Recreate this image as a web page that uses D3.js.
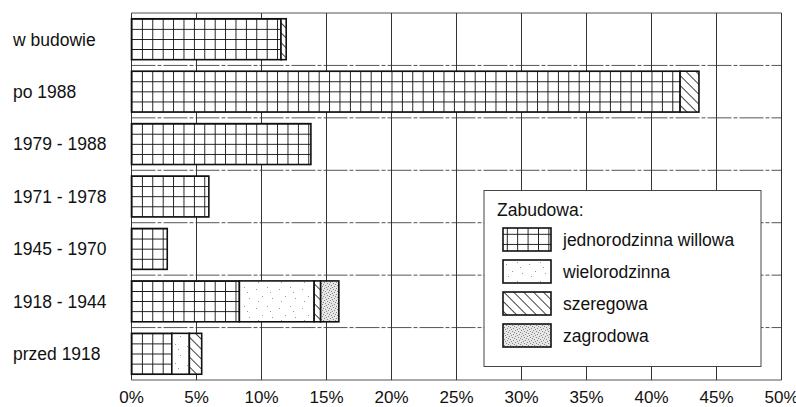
<!DOCTYPE html>
<html lang="pl">

<head>
    <meta charset="UTF-8">
    <title>Zabudowa</title>
    <script src="https://cdn.jsdelivr.net/npm/d3@7"></script>
    <style>
        body { margin: 0; background: #fff; }
        svg { font-family: "Liberation Sans", Arial, sans-serif; }
    </style>
</head>

<body>
    <svg id="chart" width="796" height="407"></svg>

    <script>
        // okresy budowy (od gory)
        const categories = ["w budowie", "po 1988", "1979 - 1988", "1971 - 1978", "1945 - 1970", "1918 - 1944", "przed 1918"]
        // udzialy w % wg rodzaju zabudowy
        const jednorodzinna = [11.5, 42.2, 13.8, 5.95, 2.75, 8.3, 3.1]
        const wielorodzinna = [0, 0, 0, 0, 0, 5.75, 1.35]
        const szeregowa = [0.4, 1.45, 0, 0, 0, 0.5, 0.95]
        const zagrodowa = [0, 0, 0, 0, 0, 1.4, 0]

        const seriesNames = ["jednorodzinna willowa", "wielorodzinna", "szeregowa", "zagrodowa"]
        const xTicks = [0, 5, 10, 15, 20, 25, 30, 35, 40, 45, 50]

        const svg = d3.select('#chart')
        const defs = svg.append('defs')

        const x = d3.scaleLinear().domain([0, 50]).range([131.5, 781.5])
        const y = d3.scaleBand()
            .domain(categories)
            .range([13, 380])
            .paddingInner(0.22)
            .paddingOuter(0.11)

        const table = categories.map((c, i) => ({
            cat: c,
            values: [jednorodzinna[i], wielorodzinna[i], szeregowa[i], zagrodowa[i]]
        }))

        // ---- patterns ----
        // grid (jednorodzinna) has to start at each bar's corner
        let pid = 0
        const gridFill = (ox, oy) => {
            const id = 'grid' + (pid++)
            const p = defs.append('pattern').attr('id', id)
                .attr('patternUnits', 'userSpaceOnUse')
                .attr('x', ox).attr('y', oy)
                .attr('width', 10.4).attr('height', 10.1)
            p.append('rect').attr('width', 10.4).attr('height', 10.1).attr('fill', '#fff')
            p.append('path').attr('d', 'M0,0H10.4M0,0V10.1')
                .attr('stroke', '#111').attr('stroke-width', 1.8)
            return `url(#${id})`
        }

        // sparse stipple for wielorodzinna
        const pw = defs.append('pattern').attr('id', 'wielo')
            .attr('patternUnits', 'userSpaceOnUse').attr('width', 23).attr('height', 19)
        pw.append('rect').attr('width', 23).attr('height', 19).attr('fill', '#fff')
        const wDots = [[3, 4], [14, 2], [9, 11], [19, 13], [5, 16], [17, 7]]
        pw.selectAll('rect.d').data(wDots).join('rect').attr('class', 'd')
            .attr('x', d => d[0]).attr('y', d => d[1]).attr('width', 1).attr('height', 1)
            .attr('fill', '#999')

        // hatch for szeregowa
        const ph = defs.append('pattern').attr('id', 'szer')
            .attr('patternUnits', 'userSpaceOnUse').attr('width', 7).attr('height', 7)
            .attr('patternTransform', 'rotate(-45)')
        ph.append('rect').attr('width', 7).attr('height', 7).attr('fill', '#fff')
        ph.append('line').attr('x1', 0).attr('y1', 0).attr('x2', 0).attr('y2', 7)
            .attr('stroke', '#111').attr('stroke-width', 1.6)

        // dense stipple for zagrodowa
        const pz = defs.append('pattern').attr('id', 'zagr')
            .attr('patternUnits', 'userSpaceOnUse').attr('width', 6).attr('height', 6)
        pz.append('rect').attr('width', 6).attr('height', 6).attr('fill', '#e6e6e6')
        const zDots = [[0, 0], [3, 1], [1, 3], [4, 4], [2, 5], [5, 2]]
        pz.selectAll('rect.d').data(zDots).join('rect').attr('class', 'd')
            .attr('x', d => d[0]).attr('y', d => d[1]).attr('width', 1).attr('height', 1)
            .attr('fill', '#888')

        const fixedFills = [null, 'url(#wielo)', 'url(#szer)', 'url(#zagr)']

        // ---- grid ----
        const step = y.step()
        const rowEdges = categories.map(c => y(c) - step * 0.11).concat([380])

        svg.append('g')
            .selectAll('line')
            .data(rowEdges)
            .join('line')
            .attr('x1', x(0)).attr('x2', x(50))
            .attr('y1', d => d).attr('y2', d => d)
            .attr('stroke', '#555').attr('stroke-width', 1)
            .attr('stroke-dasharray', (d, i) => (i === 0 || i === rowEdges.length - 1) ? null : '24,2,4,2')

        svg.append('g')
            .selectAll('line')
            .data(xTicks)
            .join('line')
            .attr('x1', d => x(d)).attr('x2', d => x(d))
            .attr('y1', 13).attr('y2', 380)
            .attr('stroke', '#333').attr('stroke-width', 1)

        // ---- bars ----
        const segs = []
        table.forEach(row => {
            let acc = 0
            row.values.forEach((v, k) => {
                if (v > 0) segs.push({ cat: row.cat, k, x0: acc, x1: acc + v })
                acc += v
            })
        })

        svg.append('g')
            .selectAll('rect')
            .data(segs)
            .join('rect')
            .attr('x', d => x(d.x0))
            .attr('y', d => y(d.cat))
            .attr('width', d => x(d.x1) - x(d.x0))
            .attr('height', y.bandwidth())
            .attr('fill', d => d.k === 0 ? gridFill(x(d.x0), y(d.cat)) : fixedFills[d.k])
            .attr('stroke', '#111')
            .attr('stroke-width', 1.6)

        // ---- axis labels ----
        svg.append('g')
            .selectAll('text')
            .data(categories)
            .join('text')
            .attr('x', 13)
            .attr('y', d => y(d) + y.bandwidth() / 2)
            .attr('dy', '0.36em')
            .attr('font-size', 17.5)
            .attr('fill', '#111')
            .text(d => d)

        svg.append('g')
            .selectAll('text')
            .data(xTicks)
            .join('text')
            .attr('x', d => x(d))
            .attr('y', 403)
            .attr('text-anchor', 'middle')
            .attr('font-size', 17)
            .attr('fill', '#111')
            .text(d => d + '%')

        // ---- legend ----
        const lg = svg.append('g')
        lg.append('rect')
            .attr('x', 484).attr('y', 190.5)
            .attr('width', 277).attr('height', 176)
            .attr('fill', '#fff').attr('stroke', '#444').attr('stroke-width', 1)
        lg.append('text')
            .attr('x', 497).attr('y', 216)
            .attr('font-size', 17.5).attr('fill', '#111')
            .text('Zabudowa:')

        const items = lg.selectAll('g.item')
            .data(seriesNames)
            .join('g')
            .attr('class', 'item')
            .attr('transform', (d, i) => `translate(503,${228 + i * 32})`)

        items.append('rect')
            .attr('width', 48).attr('height', 23)
            .attr('fill', (d, i) => i === 0 ? gridFill(503, 228) : fixedFills[i])
            .attr('stroke', '#111').attr('stroke-width', 1.6)

        items.append('text')
            .attr('x', 60).attr('y', 11.5).attr('dy', '0.36em')
            .attr('font-size', 17.5).attr('fill', '#111')
            .text(d => d)
    </script>
</body>

</html>
